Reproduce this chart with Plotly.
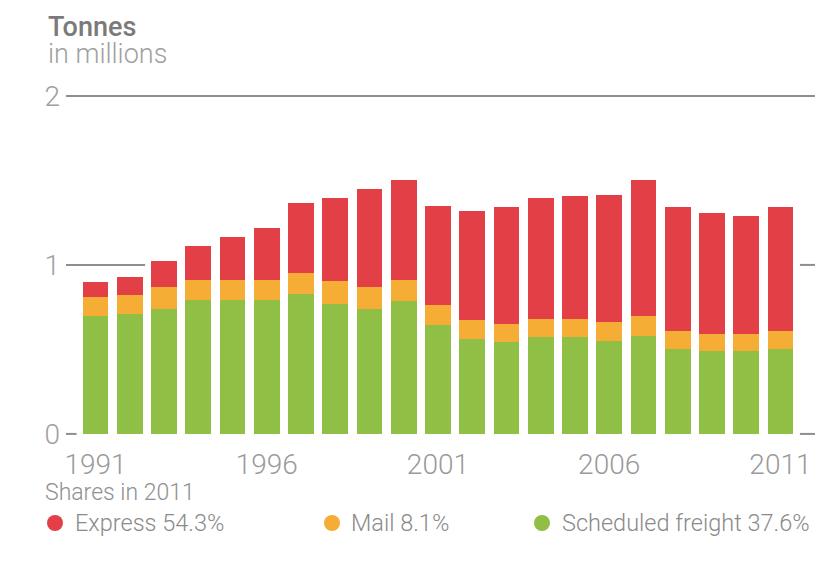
import plotly.graph_objects as go

# ---- data (million tonnes) ----
years = list(range(1991, 2012))
scheduled_freight = [0.70, 0.71, 0.74, 0.79, 0.79, 0.79, 0.83, 0.77, 0.74, 0.785,
                     0.645, 0.56, 0.545, 0.575, 0.575, 0.55, 0.58, 0.50, 0.49, 0.49, 0.50]
mail = [0.11, 0.11, 0.13, 0.12, 0.12, 0.12, 0.12, 0.135, 0.13, 0.125,
        0.115, 0.115, 0.105, 0.105, 0.105, 0.115, 0.115, 0.11, 0.10, 0.10, 0.11]
express = [0.09, 0.11, 0.155, 0.20, 0.255, 0.31, 0.415, 0.49, 0.58, 0.595,
           0.59, 0.645, 0.69, 0.715, 0.725, 0.75, 0.81, 0.735, 0.715, 0.70, 0.735]
x_tick_years = [1991, 1996, 2001, 2006, 2011]
y_ticks = [0, 1, 2]
legend_labels = ["Express 54.3%", "Mail 8.1%", "Scheduled freight 37.6%"]

RED, ORANGE, GREEN = "#e23f46", "#f5ad35", "#8fbf45"
GRID = "#8e8e8e"
FONT = "Roboto, Liberation Sans, Arial, sans-serif"
LIGHT = 300

W, H = 817, 561
ML, MR, MT, MB = 66, 2, 79, 122
PW, PH = W - ML - MR, H - MT - MB


def px_x(p):
    return (p - ML) / PW


def px_y(p):
    return (H - MB - p) / PH


fig = go.Figure()
for name, vals, col in [("Scheduled freight", scheduled_freight, GREEN),
                        ("Mail", mail, ORANGE),
                        ("Express", express, RED)]:
    fig.add_trace(go.Bar(x=years, y=vals, name=name, marker=dict(color=col, line=dict(width=0)),
                         width=0.75, showlegend=False, hoverinfo="skip"))

xr = [1990.14, 2012.01]

shapes = []
line = dict(color=GRID, width=2)
shapes.append(dict(type="line", xref="x", yref="y", x0=xr[0], x1=xr[1], y0=2, y1=2, line=line, layer="below"))
shapes.append(dict(type="line", xref="x", yref="y", x0=xr[0], x1=1992.45, y0=1, y1=1, line=line, layer="below"))
shapes.append(dict(type="line", xref="x", yref="y", x0=2011.57, x1=xr[1], y0=1, y1=1, line=line, layer="below"))
shapes.append(dict(type="line", xref="x", yref="y", x0=xr[0], x1=1990.45, y0=0, y1=0, line=line, layer="below"))
shapes.append(dict(type="line", xref="x", yref="y", x0=2011.57, x1=xr[1], y0=0, y1=0, line=line, layer="below"))

# legend dots
dot_px = [55, 332, 542]
text_px = [73, 349, 560]
for cx, col in zip(dot_px, [RED, ORANGE, GREEN]):
    shapes.append(dict(type="circle", xref="paper", yref="paper",
                       xsizemode="pixel", ysizemode="pixel",
                       xanchor=px_x(cx), yanchor=px_y(523),
                       x0=-8, x1=8, y0=-8, y1=8,
                       fillcolor=col, line=dict(width=0)))

annotations = [
    dict(text="Tonnes", x=px_x(46), y=px_y(27), xref="paper", yref="paper",
         xanchor="left", yanchor="middle", showarrow=False,
         font=dict(family=FONT, size=27, color="#7a7a7a", weight=500)),
    dict(text="in millions", x=px_x(46), y=px_y(54), xref="paper", yref="paper",
         xanchor="left", yanchor="middle", showarrow=False,
         font=dict(family=FONT, size=27, color="#a0a0a0", weight=LIGHT)),
    dict(text="Shares in 2011", x=px_x(43), y=px_y(493), xref="paper", yref="paper",
         xanchor="left", yanchor="middle", showarrow=False,
         font=dict(family=FONT, size=23, color="#8f8f8f", weight=LIGHT)),
]
for tx, lab in zip(text_px, legend_labels):
    annotations.append(dict(text=lab, x=px_x(tx), y=px_y(523), xref="paper", yref="paper",
                            xanchor="left", yanchor="middle", showarrow=False,
                            font=dict(family=FONT, size=23.5, color="#8a8a8a", weight=LIGHT)))

fig.update_layout(
    width=W, height=H,
    margin=dict(l=ML, r=MR, t=MT, b=MB, pad=0),
    barmode="stack",
    plot_bgcolor="white", paper_bgcolor="white",
    shapes=shapes, annotations=annotations,
    xaxis=dict(range=xr, tickvals=x_tick_years, ticktext=[str(v) for v in x_tick_years],
               showgrid=False, zeroline=False, showline=False, ticks="",
               tickfont=dict(family=FONT, size=28, color="#9a9a9a", weight=LIGHT), ticklabelstandoff=6),
    yaxis=dict(range=[-0.03, 2.1], tickvals=y_ticks, ticktext=[str(v) for v in y_ticks],
               showgrid=False, zeroline=False, showline=False, ticks="",
               tickfont=dict(family=FONT, size=28, color="#a0a0a0", weight=LIGHT), ticklabelstandoff=5),
)

fig.write_html("out.html", config={"displayModeBar": False},
               post_script="document.body.style.margin='0';document.body.style.padding='0';")
